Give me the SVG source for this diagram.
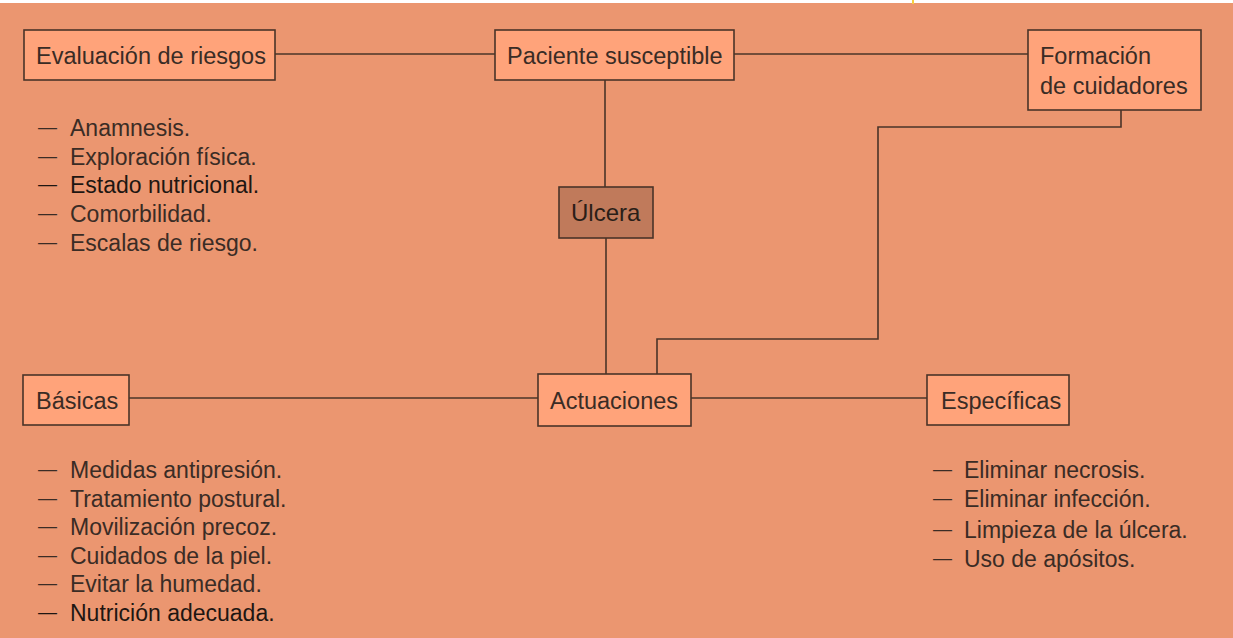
<svg xmlns="http://www.w3.org/2000/svg" width="1233" height="638" viewBox="0 0 1233 638">
<style>
.bg{fill:#EB9670}
.box{fill:#FFA37A;stroke:#4a3428;stroke-width:1.6}
.dark{fill:#C07A5B;stroke:#4a3428;stroke-width:1.6}
.lbl{font-family:"Liberation Sans",Arial,sans-serif;font-size:23.5px;fill:#3a2c25}
.li{font-family:"Liberation Sans",Arial,sans-serif;font-size:23px;fill:#3a2c25}
.d{font-family:"Liberation Sans",Arial,sans-serif;font-size:19px;fill:#3a2c25}
.em{fill:#1e1612}
.conn{fill:none;stroke:#4a3428;stroke-width:1.6}
</style>
<rect x="0" y="0" width="1233" height="638" fill="#ffffff"/>
<rect class="bg" x="0" y="3" width="1233" height="635"/>
<rect x="912" y="0" width="2" height="4" fill="#f5d040"/>
<g id="connectors">
<path class="conn" d="M275 54H495"/>
<path class="conn" d="M734 54H1028"/>
<path class="conn" d="M605 80V187"/>
<path class="conn" d="M606 238V374"/>
<path class="conn" d="M1121 110V127H878V339H657V374"/>
<path class="conn" d="M129 398H538"/>
<path class="conn" d="M691 398H927"/>
</g>
<g id="evaluacion">
<rect class="box" x="24" y="30" width="251" height="50"/>
<text class="lbl" x="36" y="64">Evaluación de riesgos</text>
</g>
<g id="paciente">
<rect class="box" x="495" y="30" width="239" height="50"/>
<text class="lbl" x="507" y="64">Paciente susceptible</text>
</g>
<g id="formacion">
<rect class="box" x="1028" y="30" width="173" height="80"/>
<text class="lbl" x="1040" y="64">Formación</text>
<text class="lbl" x="1040" y="94">de cuidadores</text>
</g>
<g id="ulcera">
<rect class="dark" x="559" y="187" width="94" height="51"/>
<text class="lbl" x="571" y="221" style="fill:#2a1e18;font-size:24px">Úlcera</text>
</g>
<g id="actuaciones">
<rect class="box" x="538" y="374" width="153" height="52"/>
<text class="lbl" x="550" y="409">Actuaciones</text>
</g>
<g id="basicas">
<rect class="box" x="23" y="375" width="106" height="50"/>
<text class="lbl" x="36" y="409">Básicas</text>
</g>
<g id="especificas">
<rect class="box" x="927" y="375" width="142" height="50"/>
<text class="lbl" x="941" y="409">Específicas</text>
</g>
<g id="lista-evaluacion">
<text class="d" x="38" y="133">—</text><text class="li" x="70" y="136">Anamnesis.</text>
<text class="d" x="38" y="162">—</text><text class="li" x="70" y="165">Exploración física.</text>
<text class="d em" x="38" y="190">—</text><text class="li em" x="70" y="193">Estado nutricional.</text>
<text class="d" x="38" y="219">—</text><text class="li" x="70" y="222">Comorbilidad.</text>
<text class="d" x="38" y="248">—</text><text class="li" x="70" y="251">Escalas de riesgo.</text>
</g>
<g id="lista-basicas">
<text class="d" x="38" y="475">—</text><text class="li" x="70" y="478">Medidas antipresión.</text>
<text class="d" x="38" y="504">—</text><text class="li" x="70" y="507">Tratamiento postural.</text>
<text class="d" x="38" y="532">—</text><text class="li" x="70" y="535">Movilización precoz.</text>
<text class="d" x="38" y="561">—</text><text class="li" x="70" y="564">Cuidados de la piel.</text>
<text class="d" x="38" y="589">—</text><text class="li" x="70" y="592">Evitar la humedad.</text>
<text class="d em" x="38" y="618">—</text><text class="li em" x="70" y="621">Nutrición adecuada.</text>
</g>
<g id="lista-especificas">
<text class="d" x="933" y="475">—</text><text class="li" x="964" y="478">Eliminar necrosis.</text>
<text class="d" x="933" y="504">—</text><text class="li" x="964" y="507">Eliminar infección.</text>
<text class="d" x="933" y="535">—</text><text class="li" x="964" y="538">Limpieza de la úlcera.</text>
<text class="d" x="933" y="564">—</text><text class="li" x="964" y="567">Uso de apósitos.</text>
</g>
</svg>
